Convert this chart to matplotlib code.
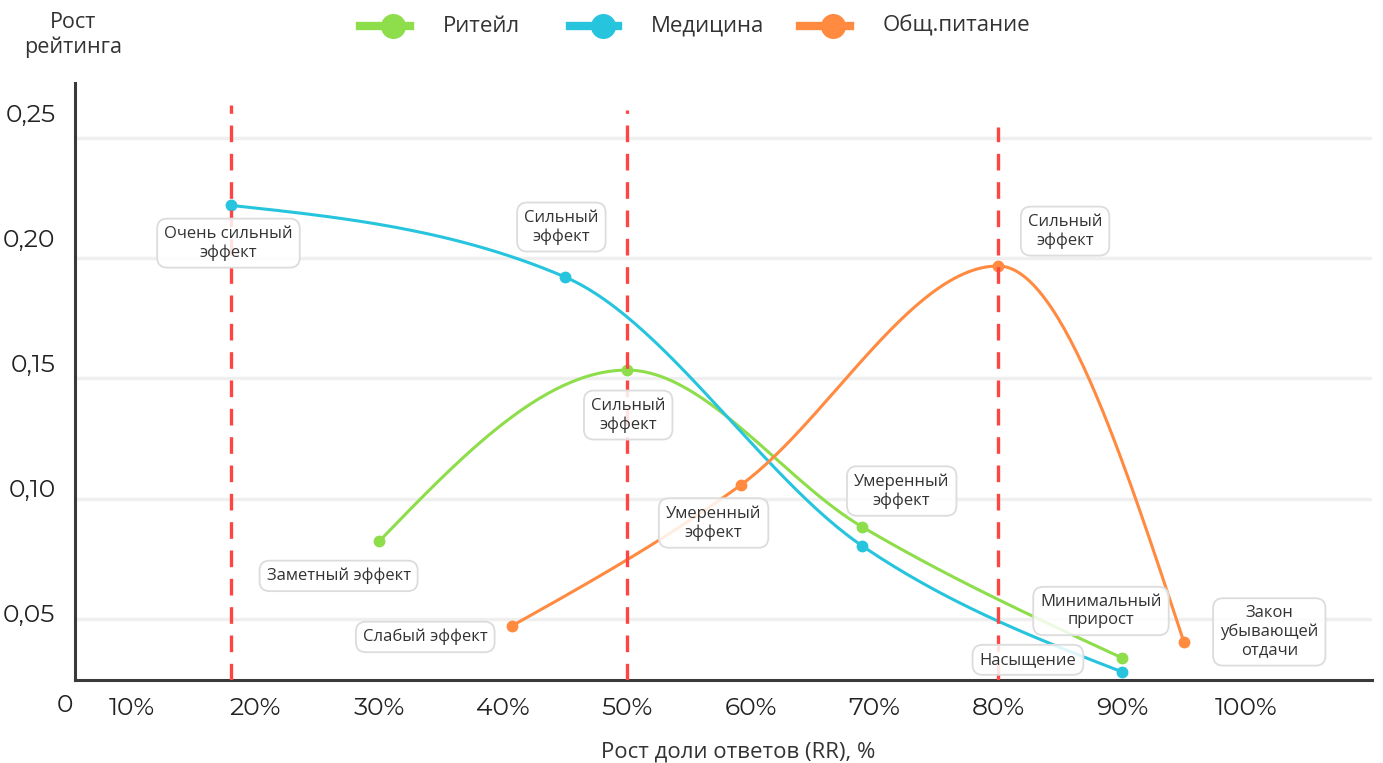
import numpy as np
import matplotlib
matplotlib.use("Agg")
import matplotlib.pyplot as plt
from matplotlib.lines import Line2D

plt.rcParams['font.family'] = ['Open Sans', 'DejaVu Sans']
NUM_FONT = ['Montserrat Alternates', 'Open Sans', 'DejaVu Sans']

# --- data ---
retail_x = [30, 50, 69, 90]
retail_y = [0.0824, 0.1535, 0.0883, 0.0338]
med_x = [18, 45, 69, 90]
med_y = [0.222, 0.1922, 0.0804, 0.028]
food_x = [40.7, 59.2, 80, 95]
food_y = [0.0471, 0.1057, 0.1968, 0.0404]

series_names = ['Ритейл', 'Медицина', 'Общ.питание']
series_colors = ['#8edd4a', '#27c4de', '#ff8a40']

x_ticks = [10, 20, 30, 40, 50, 60, 70, 80, 90, 100]
x_tick_labels = ['10%', '20%', '30%', '40%', '50%', '60%', '70%', '80%', '90%', '100%']
y_grid = [0.05, 0.10, 0.15, 0.20, 0.25]
y_tick_labels = ['0,05', '0,10', '0,15', '0,20', '0,25']

# vertical markers: x position, top of the dashed line
markers_x = [18, 50, 80]
markers_top = [0.2637, 0.2616, 0.2546]

# callouts: text, x, y
callouts = [
    ('Очень сильный\nэффект', 17.8, 0.2063),
    ('Сильный\nэффект', 44.7, 0.2130),
    ('Сильный\nэффект', 85.4, 0.2113),
    ('Сильный\nэффект', 50.1, 0.1348),
    ('Умеренный\nэффект', 72.2, 0.1032),
    ('Умеренный\nэффект', 57.0, 0.0899),
    ('Заметный эффект', 26.7, 0.0679),
    ('Слабый эффект', 33.7, 0.0425),
    ('Минимальный\nприрост', 88.3, 0.0533),
    ('Насыщение', 82.4, 0.0330),
    ('Закон\nубывающей\nотдачи', 101.9, 0.0446),
]


def monotone_curve(xs, ys, n=60):
    """Monotone cubic (same as d3 curveMonotoneX) through the points."""
    xs = np.asarray(xs, float)
    ys = np.asarray(ys, float)
    k = len(xs)
    h = np.diff(xs)
    s = np.diff(ys) / h
    t = np.zeros(k)
    for i in range(1, k - 1):
        p = (s[i - 1] * h[i] + s[i] * h[i - 1]) / (h[i - 1] + h[i])
        t[i] = (np.sign(s[i - 1]) + np.sign(s[i])) * min(abs(s[i - 1]), abs(s[i]), 0.5 * abs(p))
    t[0] = (3 * s[0] - t[1]) / 2
    t[-1] = (3 * s[-1] - t[-2]) / 2
    out_x, out_y = [], []
    for i in range(k - 1):
        u = np.linspace(0, 1, n)
        h00 = 2 * u**3 - 3 * u**2 + 1
        h10 = u**3 - 2 * u**2 + u
        h01 = -2 * u**3 + 3 * u**2
        h11 = u**3 - u**2
        out_x.append(xs[i] + u * h[i])
        out_y.append(h00 * ys[i] + h10 * h[i] * t[i] + h01 * ys[i + 1] + h11 * h[i] * t[i + 1])
    return np.concatenate(out_x), np.concatenate(out_y)


fig = plt.figure(figsize=(13.83, 7.63), dpi=100)
ax = fig.add_axes([75 / 1383, 1 - 680 / 763, (1372 - 75) / 1383, (680 - 83) / 763])
ax.set_xlim(5.4, 110.2)
ax.set_ylim(0.0246, 0.2729)

for spine in ['top', 'right']:
    ax.spines[spine].set_visible(False)
for spine in ['left', 'bottom']:
    ax.spines[spine].set_color('#3a3a3a')
    ax.spines[spine].set_linewidth(2.2)

for g in y_grid:
    ax.axhline(g, color='#efefef', lw=2.5, zorder=0)

# y labels sit on their own even spacing, slightly above the grid
label_pos = [0.2604 - (len(y_grid) - 1 - i) * 0.05 * 125 / 120.25 for i in range(len(y_grid))]
ax.set_yticks(label_pos, y_tick_labels)
ax.set_xticks(x_ticks, x_tick_labels)
ax.tick_params(axis='both', length=0, labelsize=18, colors='#222222')
ax.tick_params(axis='y', pad=14)
ax.tick_params(axis='x', pad=12)
for lbl in ax.get_xticklabels() + ax.get_yticklabels():
    lbl.set_family(NUM_FONT)
ax.text(-0.001, -0.043, '0', transform=ax.transAxes, ha='right', va='center',
        fontsize=18, color='#222222', family=NUM_FONT)

for mx, top in zip(markers_x, markers_top):
    ax.vlines(mx, 0.0246, top, colors='#ff4444', lw=2.4, linestyles=(0, (5, 3.5)), zorder=4)

for (xs, ys), color in zip([(retail_x, retail_y), (med_x, med_y), (food_x, food_y)], series_colors):
    cx, cy = monotone_curve(xs, ys)
    ax.plot(cx, cy, color=color, lw=2.2, zorder=2, solid_capstyle='round')
    ax.plot(xs, ys, 'o', color=color, ms=7.5, zorder=3)

for text, tx, ty in callouts:
    ax.text(tx, ty, text, ha='center', va='center', fontsize=12, color='#333333',
            linespacing=1.2, zorder=5,
            bbox=dict(boxstyle='round,pad=0.42,rounding_size=0.6', fc=(1, 1, 1, 0.85),
                      ec='#dcdcdc', lw=1.3))

# legend along the top
legend_items = [(360, 410, 393, 443), (570, 618, 603, 651), (800, 850, 833, 883)]
for (x0, x1, mxp, tx), name, color in zip(legend_items, series_names, series_colors):
    yl = 1 - 26 / 763
    fig.add_artist(Line2D([x0 / 1383, x1 / 1383], [yl, yl], color=color, lw=6))
    fig.add_artist(Line2D([mxp / 1383], [yl], marker='o', color=color, ms=17, lw=0))
    fig.text(tx / 1383, yl, name, ha='left', va='center', fontsize=16, color='#333333')

fig.text(73 / 1383, 1 - 35 / 763, 'Рост\nрейтинга', ha='center', va='center',
         fontsize=15.5, color='#333333', linespacing=1.25)
fig.text(738 / 1383, 1 - 752 / 763, 'Рост доли ответов (RR), %', ha='center', va='center',
         fontsize=16, color='#333333')

fig.savefig('out.png', dpi=100)
